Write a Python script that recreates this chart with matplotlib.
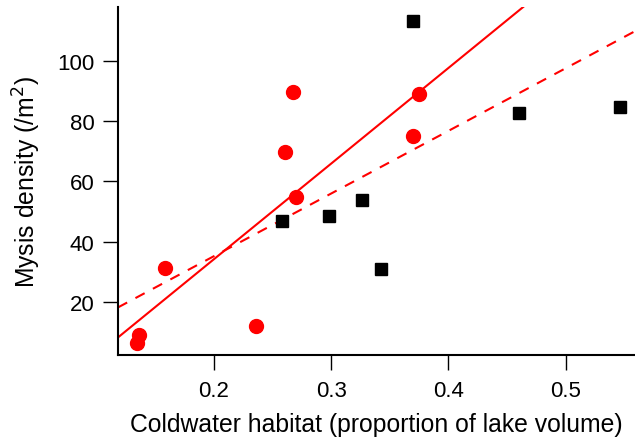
import numpy as np
import matplotlib
matplotlib.use("Agg")
import matplotlib.pyplot as plt

plt.rcParams['font.family'] = ['Liberation Sans', 'DejaVu Sans']

# Lakes with red circles
red_x = [0.1366, 0.1349, 0.1587, 0.2358, 0.2608, 0.2673, 0.2702, 0.3753, 0.3702]
red_y = [8.8, 6.3, 31.3, 12.1, 69.7, 89.8, 54.9, 89.2, 75.1]

# Lakes with black squares
black_x = [0.258, 0.298, 0.3264, 0.3429, 0.3699, 0.4605, 0.5458]
black_y = [46.9, 48.5, 53.7, 30.8, 113.2, 82.6, 84.9]

x_ticks = [0.2, 0.3, 0.4, 0.5]
y_ticks = [20, 40, 60, 80, 100]
x_range = (0.1184, 0.559)
y_range = (2.3, 118.0)

fig = plt.figure(figsize=(6.35, 4.39), dpi=100)
ax = fig.add_axes([0.1858, 0.1891, 0.8142, 0.7927])

# Least-squares fits: red lakes only (solid), all lakes (dashed)
xs = np.linspace(x_range[0], x_range[1], 200)
m_red, b_red = np.polyfit(red_x, red_y, 1)
all_x = np.concatenate([red_x, black_x])
all_y = np.concatenate([red_y, black_y])
m_all, b_all = np.polyfit(all_x, all_y, 1)
ax.plot(xs, m_red * xs + b_red, color='#ff0000', lw=1.5, zorder=2)
ax.plot(xs, m_all * xs + b_all, color='#ff0000', lw=1.5, dashes=(5, 4.5), zorder=2)

ax.plot(black_x, black_y, 's', color='black', ms=9, mec='black', zorder=3)
ax.plot(red_x, red_y, 'o', color='#ff0000', ms=10, mec='#ff0000', zorder=3)

ax.set_xlim(*x_range)
ax.set_ylim(*y_range)
ax.set_xticks(x_ticks)
ax.set_yticks(y_ticks)
ax.set_xticklabels([f"{v:.1f}" for v in x_ticks])
ax.set_yticklabels([str(v) for v in y_ticks])

for side in ('top', 'right'):
    ax.spines[side].set_visible(False)
for side in ('left', 'bottom'):
    ax.spines[side].set_linewidth(1.5)
ax.tick_params(axis='both', direction='out', length=11, width=1.0,
               labelsize=16, color='black')
ax.tick_params(axis='y', pad=6)
ax.tick_params(axis='x', pad=7)

ax.set_xlabel('Coldwater habitat (proportion of lake volume)', fontsize=17.8, labelpad=8)
ax.set_ylabel('Mysis density (/m$^2$)', fontsize=17.8, labelpad=10)

fig.savefig('out.png', dpi=100)
